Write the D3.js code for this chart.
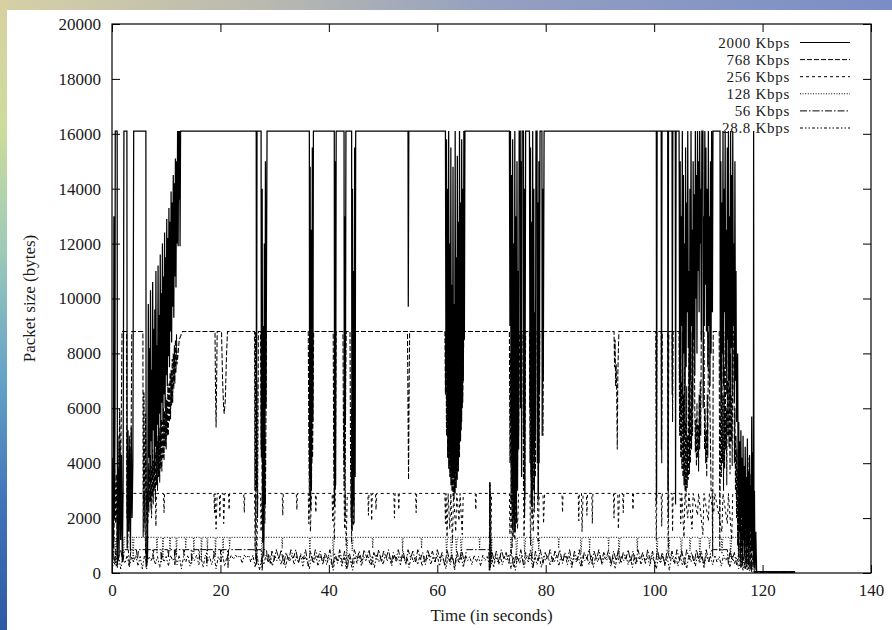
<!DOCTYPE html>
<html>
<head>
<meta charset="utf-8">
<script src="https://cdn.jsdelivr.net/npm/d3@7"></script>
<style>
  html, body { margin: 0; padding: 0; background: #fff; }
  svg { display: block; }
  text { font-family: "Liberation Serif", "Times New Roman", serif; fill: #1a1a1a; }
</style>
</head>
<body>
<svg id="chart" width="892" height="630"></svg>
<script>
// ---- data -------------------------------------------------------------
const xTickValues = [0, 20, 40, 60, 80, 100, 120, 140];
const yTickValues = [0, 2000, 4000, 6000, 8000, 10000, 12000, 14000, 16000, 18000, 20000];
const seriesLabels = ["2000 Kbps", "768 Kbps", "256 Kbps", "128 Kbps", "56 Kbps", "28.8 Kbps"];

// packet size (bytes) against time (s)
const s2000 = [
  [0.0,600],[0.15,4200],[0.25,900],[0.35,13000],[0.45,2000],[0.55,5500],[0.6,16100],[0.95,16100],[1.0,300],[1.15,3800],[1.3,600],[1.45,4800],[1.6,1200],[1.75,4300],[1.9,400],[2.05,3000],[2.2,16100],[2.75,16100],[2.8,900],[2.95,5200],[3.1,1500],[3.25,4600],[3.4,800],[3.55,5300],[3.7,2000],[3.85,4000],[4.0,16100],[6.25,16100],[6.3,200],[6.45,800],[6.55,500],
  [6.6,3000],[6.7,9800],[6.8,4200],[6.9,8200],[7.0,3300],[7.1,10300],[7.2,4800],[7.3,7400],[7.4,3500],[7.5,10600],[7.6,5200],[7.7,8900],[7.8,3700],[7.9,9600],[8.0,4600],[8.1,11000],[8.2,4100],[8.3,8300],[8.4,5400],[8.5,11200],[8.6,4300],[8.7,9400],[8.8,5800],[8.9,11600],[9.0,4800],[9.1,10200],[9.2,6200],[9.3,12000],[9.4,5500],[9.5,10800],[9.6,6500],[9.7,12400],[9.8,6000],[9.9,11500],[10.0,7200],[10.1,12900],[10.2,6800],[10.3,12200],[10.4,7900],[10.5,13300],[10.6,7500],[10.7,12800],[10.8,8800],[10.9,13900],[11.0,8400],[11.1,13500],[11.2,9700],[11.3,14500],[11.4,9300],[11.5,14200],[11.6,10800],[11.7,15100],[11.8,10400],[11.9,15000],[12.0,12000],[12.1,16100],[12.2,11900],[12.3,16100],[12.4,13600],[12.5,16100],[12.55,11900],[12.65,16100],
  [26.6,16100],[26.65,3100],[26.75,16100],[27.5,16100],[27.55,4200],[27.7,14000],[27.8,1100],[27.9,9000],[28.0,600],[28.1,12000],[28.2,2500],[28.3,15000],[28.4,6000],[28.6,16100],
  [36.4,16100],[36.45,3600],[36.55,14800],[36.65,2300],[36.75,12500],[36.85,4000],[36.95,15500],[37.05,5500],[37.15,16100],
  [41.0,16100],[41.05,2400],[41.15,15000],[41.25,3200],[41.35,16100],[42.8,16100],[42.85,4000],[42.95,13000],[43.05,5500],[43.15,16100],
  [44.2,16100],[44.25,1600],[44.35,14000],[44.45,2500],[44.55,11000],[44.65,1800],[44.75,15500],[44.85,3500],[44.95,16100],
  [54.6,16100],[54.65,9700],[54.75,16100],
  [61.5,16100],[61.6,7500],[61.7,15800],[61.8,6200],[61.9,14000],[62.0,5000],[62.1,16100],[62.2,4400],[62.3,12000],[62.4,3900],[62.5,15500],[62.6,3700],[62.7,10500],[62.8,3600],[62.9,14800],[63.0,3500],[63.1,9800],[63.2,3800],[63.3,16100],[63.4,3600],[63.5,11500],[63.6,3900],[63.7,15200],[63.8,4100],[63.9,12800],[64.0,4300],[64.1,16100],[64.2,4800],[64.3,13500],[64.4,5200],[64.5,15800],[64.6,6000],[64.7,14000],[64.8,7000],[64.9,16100],[65.0,8500],[65.1,16100],
  [73.3,16100],[73.4,9000],[73.5,16100],[73.6,5500],[73.7,14500],[73.8,3000],[73.9,15800],[74.0,2200],[74.1,12000],[74.2,1500],[74.3,16100],[74.4,2500],[74.5,13000],[74.6,1800],[74.7,15000],[74.8,3000],[74.9,11000],[75.0,4500],[75.1,16100],[75.3,16100],[75.35,6000],[75.45,15000],[75.55,3500],[75.65,16100],[75.9,16100],[75.95,5000],[76.05,14000],[76.15,2800],[76.3,16100],
  [77.0,16100],[77.1,6000],[77.2,15500],[77.3,3500],[77.4,12800],[77.5,2500],[77.6,16100],[77.7,4500],[77.8,14000],[77.9,3000],[78.0,9500],[78.1,5000],[78.2,16100],[78.4,16100],[78.45,4000],[78.55,13500],[78.65,2800],[78.75,15000],[78.85,6500],[78.95,16100],[79.3,16100],[79.35,5000],[79.45,14000],[79.55,7000],[79.7,16100],
  [100.4,16100],[100.45,2800],[100.55,16100],[101.3,16100],[101.35,4500],[101.45,16100],[102.5,16100],[102.55,3000],[102.65,16100],[103.3,16100],[103.35,6500],[103.45,16100],[103.9,16100],[103.95,2500],[104.05,16100],
  [104.6,16100],[104.7,7000],[104.8,15000],[104.9,5800],[105.0,13000],[105.1,9000],[105.2,16100],[105.3,6500],[105.4,14500],[105.5,8000],[105.6,12000],[105.7,5000],[105.8,15500],[105.9,7500],[106.0,13500],[106.1,9500],[106.2,16100],[106.3,8200],[106.4,11000],[106.5,4200],[106.6,14000],[106.7,7000],[106.8,16100],[106.9,9000],[107.0,12500],[107.1,6000],[107.2,15000],[107.3,8500],[107.4,13800],[107.5,7200],[107.6,16100],[107.7,10000],[107.8,14500],[107.9,8000],[108.0,16100],[108.1,11000],[108.2,15000],[108.3,9500],[108.4,16100],[108.5,12000],[108.6,14000],[108.7,8500],[108.8,16100],[109.0,16100],[109.05,6000],[109.15,13000],[109.25,9000],[109.35,16100],[109.45,10500],[109.55,15500],[109.65,8800],[109.8,14000],[109.9,7500],[110.0,16100],[110.1,9000],[110.2,13000],[110.3,6800],[110.4,15000],[110.5,8000],[110.6,16100],[110.75,9500],[110.85,16100],
  [112.15,16100],[112.2,7000],[112.3,15000],[112.4,6200],[112.5,13500],[112.6,8000],[112.7,16100],[112.8,6800],[112.9,14000],[113.0,9500],[113.1,16100],[113.2,7500],[113.3,12500],[113.4,6500],[113.5,15500],[113.6,8500],[113.7,16100],[113.8,7000],[113.9,13000],[114.0,6000],[114.1,16100],[114.2,8200],[114.3,14500],[114.4,6600],[114.5,16100],[114.6,9000],[114.7,12000],[114.8,6200],[114.9,15000],[115.0,7000],[115.1,11000],[115.2,5500],[115.4,8000],
  [115.5,3000],[115.6,5500],[115.7,1500],[115.8,4800],[115.9,500],[116.0,5200],[116.1,2000],[116.2,4200],[116.3,300],[116.4,5000],[116.5,1200],[116.6,3900],[116.7,600],[116.8,4600],[116.9,1800],[117.0,3500],[117.1,200],[117.2,4900],[117.3,1000],[117.4,3700],[117.5,400],[117.6,4300],[117.7,1500],[117.8,3200],[117.9,900],[118.0,5700],[118.1,800],[118.2,4400],[118.3,300],[118.35,16100],[118.42,200],[118.5,3000],[118.6,100],[118.75,1500],[118.9,50],[126.0,50]
];

const s768 = [
  [0.0,400],[0.2,2500],[0.35,700],[0.5,4000],[0.65,1800],[0.8,3600],[0.95,900],[1.1,5000],[1.25,2200],[1.4,6000],[1.55,3000],[1.7,5500],[1.85,8800],[2.7,8800],[2.75,2000],[2.9,4500],[3.05,1500],[3.2,5000],[3.35,2500],[3.5,4200],[3.65,8800],[5.7,8800],[5.75,1300],[5.9,6600],[6.05,1800],[6.2,5800],[6.35,2300],[6.5,3000],
  [6.6,2400],[6.7,4000],[6.8,2200],[6.9,3800],[7.0,2600],[7.1,4300],[7.2,2300],[7.3,3900],[7.4,2800],[7.5,4500],[7.6,2500],[7.7,4100],[7.8,3000],[7.9,4700],[8.0,2700],[8.1,4400],[8.2,3200],[8.3,5000],[8.4,3000],[8.5,4800],[8.6,3500],[8.7,5300],[8.8,3300],[8.9,5100],[9.0,3800],[9.1,5600],[9.2,3700],[9.3,5500],[9.4,4200],[9.5,6000],[9.6,4100],[9.7,5900],[9.8,4600],[9.9,6400],[10.0,4500],[10.1,6300],[10.2,5000],[10.3,6800],[10.4,5000],[10.5,6900],[10.6,5500],[10.7,7300],[10.8,5600],[10.9,7400],[11.0,6100],[11.1,7800],[11.2,6200],[11.3,8000],[11.4,6700],[11.5,8300],[11.6,6900],[11.7,8500],[11.8,7300],[11.9,8700],[12.0,7600],[12.2,8000],[12.4,8500],[12.6,8600],[13.0,8800],
  [19.0,8800],[19.1,6500],[19.2,5300],[19.3,7000],[19.4,8800],[20.2,8800],[20.4,7000],[20.6,6000],[20.7,5800],[20.9,6300],[21.1,7800],[21.3,8800],
  [26.3,8800],[26.35,3000],[26.45,8800],[26.55,1500],[26.7,7000],[26.85,2000],[27.0,8800],[27.4,8800],[27.5,4500],[27.6,8000],[27.7,1800],[27.85,6500],[28.0,1200],[28.15,5000],[28.3,2500],[28.5,8800],
  [36.2,8800],[36.3,5000],[36.4,2800],[36.5,6000],[36.6,3500],[36.7,8000],[36.8,3000],[36.9,7000],[37.0,4200],[37.2,8800],
  [40.8,8800],[40.9,4000],[41.0,2500],[41.1,6000],[41.2,3000],[41.35,8800],[42.6,8800],[42.7,5000],[42.8,3000],[42.9,6500],[43.0,2000],[43.1,7000],[43.2,8800],[43.9,8800],[44.0,4000],[44.1,2000],[44.2,6000],[44.3,1500],[44.4,5000],[44.5,2800],[44.6,7500],[44.7,3500],[44.85,8800],
  [54.5,8800],[54.6,6000],[54.7,3400],[54.8,6500],[54.9,8800],
  [61.4,8800],[61.5,6500],[61.6,8800],[61.7,5000],[61.8,8000],[61.9,4200],[62.0,7500],[62.1,3800],[62.2,8800],[62.3,3500],[62.4,6800],[62.5,3200],[62.6,8200],[62.7,3000],[62.8,6200],[62.9,2800],[63.0,7800],[63.1,2700],[63.2,6000],[63.3,2900],[63.4,8800],[63.5,3100],[63.6,6500],[63.7,3400],[63.8,8000],[63.9,3700],[64.0,7000],[64.1,4200],[64.2,8800],[64.3,4800],[64.4,7500],[64.5,5500],[64.6,8800],[64.7,6200],[64.9,8800],
  [73.3,8800],[73.4,4000],[73.5,8000],[73.6,2500],[73.7,7000],[73.8,1600],[73.9,6000],[74.0,1300],[74.1,8800],[74.2,2000],[74.3,5500],[74.4,1500],[74.5,7500],[74.6,2500],[74.7,8800],[74.8,3500],[74.9,6500],[75.0,5000],[75.2,8800],[75.8,8800],[75.9,3000],[76.0,7000],[76.1,2000],[76.3,8800],
  [77.0,8800],[77.1,4000],[77.2,7500],[77.3,2500],[77.4,6000],[77.5,2000],[77.6,8800],[77.7,3000],[77.8,6500],[77.9,2200],[78.0,8000],[78.1,3500],[78.2,8800],[78.5,8800],[78.6,2600],[78.7,7000],[78.8,4000],[78.9,8800],[79.4,8800],[79.5,5000],[79.6,8800],
  [92.6,8800],[92.7,7500],[92.8,8500],[92.9,6800],[93.0,7600],[93.1,6500],[93.2,4500],[93.3,7200],[93.4,8100],[93.5,8800],
  [100.3,8800],[100.4,2500],[100.5,8800],[101.3,8800],[101.4,4000],[101.5,8800],[102.5,8800],[102.6,2000],[102.7,8800],[103.3,8800],[103.4,5500],[103.5,8800],
  [104.6,8800],[104.7,5000],[104.8,8000],[104.9,4200],[105.0,7000],[105.1,3800],[105.2,8800],[105.3,3500],[105.4,6500],[105.5,3200],[105.6,7500],[105.7,3000],[105.8,5500],[105.9,2800],[106.0,6800],[106.1,3100],[106.2,5000],[106.3,3400],[106.4,8000],[106.5,3600],[106.6,6000],[106.7,4000],[106.8,8800],[106.9,4500],[107.0,7000],[107.1,5000],[107.2,8800],[107.4,8800],[107.5,6000],[107.6,4400],[107.7,5600],[107.8,3900],[107.9,6200],[108.0,4200],[108.1,5400],[108.2,3700],[108.3,6500],[108.4,4500],[108.5,7000],[108.6,5000],[108.7,8800],[109.2,8800],[109.3,4500],[109.4,6000],[109.5,4000],[109.6,5200],[109.7,3500],[109.8,6500],[109.9,4200],[110.0,8800],[110.3,6000],[110.5,3000],[110.7,3000],[110.8,600],[110.9,8800],[112.0,8800],[112.1,800],[112.2,4000],
  [112.3,7000],[112.4,3500],[112.5,8800],[112.6,4000],[112.7,6500],[112.8,3000],[112.9,7500],[113.0,3800],[113.1,8800],[113.2,4500],[113.3,6000],[113.4,3200],[113.5,7000],[113.6,5000],[113.7,8800],[113.8,4600],[113.9,6800],[114.0,3600],[114.1,8000],[114.2,4800],[114.3,6500],[114.4,3900],[114.5,8800],[114.7,8800],[114.8,4000],[114.9,6000],[115.0,3000],[115.1,5000],[115.2,2000],[115.3,4500],
  [115.4,1000],[115.5,3800],[115.6,600],[115.7,3000],[115.8,1500],[115.9,4400],[116.0,800],[116.1,3500],[116.2,200],[116.3,4000],[116.4,1300],[116.5,3000],[116.6,500],[116.7,3800],[116.8,1000],[116.9,2600],[117.0,400],[117.1,3300],[117.2,1400],[117.3,4200],[117.4,300],[117.5,2800],[117.6,900],[117.7,3600],[117.8,200],[117.9,2400],[118.0,100],[118.3,800],[118.5,50],[118.9,30],[126.0,30]
];

const s256 = [
  [0.0,300],[0.3,2900],[0.9,2900],[1.0,600],[1.2,2900],[2.8,2900],[2.9,900],[3.1,2900],[5.8,2900],[5.9,1500],[6.0,2900],[6.2,700],[6.4,2600],[6.6,1800],[6.8,2900],[7.2,2900],[7.3,2000],[7.4,2900],[8.0,2900],[8.1,1700],[8.2,2900],[9.5,2900],[9.6,2200],[9.7,2900],
  [18.8,2900],[18.9,2200],[19.0,2900],[19.2,1600],[19.4,2900],[19.8,2900],[19.9,2000],[20.0,2900],[20.5,2900],[20.6,1800],[20.8,2900],[21.5,2900],[21.6,2300],[21.7,2900],
  [24.3,2900],[24.4,2200],[24.5,2900],[26.3,2900],[26.4,800],[26.5,2900],[26.7,300],[26.9,2900],[27.4,2900],[27.5,1500],[27.7,2900],[28.1,2900],[28.2,1800],[28.3,2900],
  [31.4,2900],[31.5,2100],[31.6,2900],[34.0,2900],[34.1,2300],[34.2,2900],[36.2,2900],[36.3,1800],[36.4,2900],[36.6,1500],[36.8,2900],[37.5,2900],[37.6,2200],[37.7,2900],
  [40.6,2900],[40.7,1900],[40.8,2900],[41.0,1200],[41.2,2900],[42.8,2900],[42.9,1600],[43.0,2900],[43.2,1000],[43.4,2900],[44.1,2900],[44.2,1100],[44.3,2900],[44.5,1700],[44.7,2900],
  [47.2,2900],[47.3,2100],[47.4,2900],[47.8,2900],[47.9,1900],[48.0,2900],[48.6,2900],[48.7,2300],[48.8,2900],
  [52.0,2900],[52.1,2000],[52.2,2900],[52.8,2900],[52.9,2300],[53.0,2900],[56.0,2900],[56.1,2200],[56.2,2900],
  [61.4,2900],[61.5,1800],[61.6,2900],[61.8,1300],[62.0,2900],[62.3,1600],[62.5,2900],[62.8,1100],[63.0,2900],[63.4,1500],[63.6,2900],[64.0,1900],[64.2,2900],[64.6,1400],[64.8,2900],
  [67.0,2900],[67.1,2300],[67.2,2900],[69.8,2900],[69.9,700],[70.0,2900],
  [73.3,2900],[73.4,1400],[73.6,2900],[73.8,900],[74.0,2900],[74.3,1200],[74.5,2900],[74.8,1600],[75.0,2900],[75.9,2900],[76.0,1300],[76.2,2900],[77.1,2900],[77.2,1000],[77.4,2900],[77.7,1500],[77.9,2900],[78.5,2900],[78.6,1100],[78.8,2900],[79.5,2900],[79.6,1800],[79.8,2900],
  [83.0,2900],[83.1,2200],[83.2,2900],[86.0,2900],[86.1,1900],[86.2,2900],[86.6,2900],[86.7,1500],[86.9,2900],[87.5,2900],[87.6,2100],[87.7,2900],[88.5,2900],[88.6,1800],[88.7,2900],
  [92.5,2900],[92.6,2000],[92.7,2900],[93.3,2900],[93.4,1600],[93.6,2900],[94.2,2900],[94.3,2200],[94.4,2900],[96.0,2900],[96.1,2300],[96.2,2900],
  [100.3,2900],[100.4,1200],[100.5,2900],[101.3,2900],[101.4,1700],[101.5,2900],[102.5,2900],[102.6,900],[102.7,2900],[103.3,2900],[103.4,1500],[103.5,2900],
  [104.8,2900],[104.9,1800],[105.1,2900],[105.5,1300],[105.7,2900],[106.2,2000],[106.4,2900],[107.0,1600],[107.2,2900],[108.0,2100],[108.2,2900],[109.0,1400],[109.2,2900],[110.0,1900],[110.2,2900],[111.0,2200],[111.2,2900],[112.5,1500],[112.7,2900],[113.5,1800],[113.7,2900],[114.3,1200],[114.5,2900],[115.5,2900],
  [115.6,800],[115.8,2600],[116.0,400],[116.2,2200],[116.4,900],[116.6,2500],[116.8,300],[117.0,1800],[117.2,600],[117.4,2000],[117.6,200],[117.8,1200],[118.0,100],[118.5,40],[126.0,40]
];

const s128 = [
  [0.0,200],[0.15,1300],[0.6,1300],[0.7,300],[0.85,1300],[2.0,1300],[2.1,500],[2.25,1300],[3.8,1300],[3.9,400],[4.05,1300],[6.4,1300],[6.5,600],[6.6,1300],[8.2,1300],[8.3,700],[8.4,1300],[9.3,1300],[9.4,500],[9.5,1300],[10.6,1300],[10.7,800],[10.8,1300],[11.8,1300],[11.9,600],[12.0,1300],[13.5,1300],[13.6,900],[13.7,1300],[15.0,1300],[15.1,700],[15.2,1300],[16.4,1300],[16.5,500],[16.6,1300],[17.5,1300],[17.6,800],[17.7,1300],[19.0,1300],[19.1,600],[19.2,1300],[20.4,1300],[20.5,700],[20.6,1300],[21.6,1300],[21.7,900],[21.8,1300],
  [26.4,1300],[26.5,500],[26.7,1300],[27.6,1300],[27.7,200],[27.9,1300],[31.3,1300],[31.4,900],[31.5,1300],[36.4,1300],[36.5,700],[36.6,1300],[40.7,1300],[40.8,600],[41.0,1300],[43.2,1300],[43.3,500],[43.5,1300],[44.2,1300],[44.3,800],[44.5,1300],[48.0,1300],[48.1,900],[48.2,1300],[53.5,1300],[53.6,800],[53.7,1300],[57.0,1300],[57.1,900],[57.2,1300],
  [61.6,1300],[61.7,700],[61.9,1300],[62.5,1300],[62.6,500],[62.8,1300],[63.4,1300],[63.5,800],[63.7,1300],[64.3,1300],[64.4,600],[64.6,1300],[67.7,1300],[67.8,900],[67.9,1300],[69.9,1300],[70.0,300],[70.1,1300],
  [73.5,1300],[73.6,600],[73.8,1300],[74.5,1300],[74.6,400],[74.8,1300],[76.0,1300],[76.1,700],[76.3,1300],[77.4,1300],[77.5,500],[77.7,1300],[78.6,1300],[78.7,800],[78.9,1300],[82.3,1300],[82.4,900],[82.5,1300],[86.4,1300],[86.5,700],[86.7,1300],[88.0,1300],[88.1,800],[88.2,1300],[91.5,1300],[91.6,900],[91.7,1300],[93.4,1300],[93.5,600],[93.7,1300],[96.8,1300],[96.9,800],[97.0,1300],
  [100.4,1300],[100.5,500],[100.7,1300],[102.6,1300],[102.7,700],[102.9,1300],[104.9,1300],[105.0,600],[105.2,1300],[106.5,1300],[106.6,800],[106.8,1300],[108.3,1300],[108.4,500],[108.6,1300],[110.1,1300],[110.2,900],[110.4,1300],[112.4,1300],[112.5,700],[112.7,1300],[114.0,1300],[114.1,600],[114.3,1300],[115.4,1300],
  [115.6,400],[115.8,1100],[116.0,300],[116.3,900],[116.6,200],[117.0,700],[117.4,100],[118.0,50],[126.0,30]
];

const s56 = [
  [0.0,100],[0.2,850],[0.5,300],[0.7,850],[1.0,200],[1.3,700],[1.6,850],[2.0,400],[2.3,850],[3.0,850],[3.2,300],[3.5,850],[4.5,850],[4.7,500],[4.9,850],[6.2,850],[6.4,150],[6.6,850],[7.5,850],[7.6,500],[7.7,850],[9.0,850],[9.1,400],[9.2,850],[10.3,850],[10.4,550],[10.5,850],[11.5,850],[11.6,300],[11.7,850],[13.2,850],[13.3,600],[13.4,850],[14.6,850],[14.7,350],[14.8,850],[16.0,850],[16.1,500],[16.2,850],[17.4,850],[17.5,250],[17.6,850],[18.7,850],[18.8,600],[18.9,850],[20.0,850],[20.1,400],[20.2,850],[21.3,850],[21.4,200],[21.5,850],
  [26.5,850],[26.6,300],[26.8,850],[27.5,850],[27.7,100],[27.9,850],[28.5,850],[28.7,400],[28.9,700],[29.2,350],[29.5,800],[29.9,450],[30.3,850],[30.8,500],[31.2,850],[31.7,300],[32.1,750],[32.6,450],[33.0,850],[33.5,550],[33.9,850],[34.4,350],[34.8,700],[35.3,500],[35.7,850],[36.2,250],[36.6,800],[37.1,400],[37.5,850],[38.0,550],[38.4,800],[38.9,300],[39.3,750],[39.8,500],[40.2,850],[40.7,200],[41.1,700],[41.6,450],[42.0,850],[42.5,350],[42.9,800],[43.4,150],[43.8,700],[44.3,300],[44.7,850],[45.2,500],[45.6,800],[46.1,400],[46.5,850],[47.0,550],[47.4,850],[47.9,300],[48.3,750],[48.8,500],[49.2,850],[49.7,400],[50.1,800],[50.6,550],[51.0,850],[51.5,350],[51.9,750],[52.4,500],[52.8,850],[53.3,450],[53.7,800],[54.2,300],[54.6,850],[55.1,550],[55.5,800],[56.0,400],[56.4,850],[56.9,500],[57.3,750],[57.8,300],[58.2,850],[58.7,550],[59.1,800],[59.6,400],[60.0,850],[60.5,500],[60.9,750],[61.4,250],[61.8,850],[62.3,400],[62.7,700],[63.2,200],[63.6,800],[64.1,450],[64.5,850],[65.0,350],[65.4,850],
  [69.5,850],[69.6,100],[69.65,3300],[69.7,100],[69.75,3300],[69.8,200],[70.0,850],[70.5,450],[70.9,800],[71.4,300],[71.8,850],[72.3,500],[72.7,750],[73.2,350],[73.6,850],[74.1,200],[74.5,700],[75.0,450],[75.4,850],[75.9,300],[76.3,750],[76.8,500],[77.2,850],[77.7,250],[78.1,800],[78.6,450],[79.0,850],[79.5,350],[79.9,750],[80.4,500],[80.8,850],[81.3,400],[81.7,800],[82.2,550],[82.6,850],[83.1,350],[83.5,750],[84.0,500],[84.4,850],[84.9,300],[85.3,800],[85.8,450],[86.2,850],[86.7,250],[87.1,750],[87.6,500],[88.0,850],[88.5,350],[88.9,800],[89.4,500],[89.8,850],[90.3,400],[90.7,750],[91.2,550],[91.6,850],[92.1,300],[92.5,800],[93.0,450],[93.4,850],[93.9,350],[94.3,750],[94.8,500],[95.2,850],[95.7,400],[96.1,800],[96.6,300],[97.0,850],[97.5,500],[97.9,750],[98.4,350],[98.8,850],[99.3,450],[99.7,800],[100.2,250],[100.6,850],[101.1,400],[101.5,750],[102.0,300],[102.4,850],[102.9,500],[103.3,800],[103.8,350],[104.2,850],[104.7,450],[105.1,800],[105.6,300],[106.0,850],[106.5,500],[106.9,750],[107.4,350],[107.8,850],[108.3,450],[108.7,800],[109.2,250],[109.6,850],[110.1,400],[110.5,800],[110.9,850],
  [113.5,850],[113.7,300],[114.0,850],[114.4,450],[114.8,750],[115.2,300],[115.6,700],[116.0,200],[116.4,600],[116.8,150],[117.2,500],[117.6,100],[118.0,300],[118.4,50],[126.0,20]
];

const s28 = [
  [0.0,50],[0.4,600],[0.8,250],[1.2,650],[1.6,150],[2.0,550],[2.4,350],[2.8,650],[3.2,200],[3.6,600],[4.0,400],[4.4,650],[4.8,250],[5.2,600],[5.6,150],[6.0,650],[6.4,350],[6.8,600],[7.2,450],[7.6,650],[8.0,300],[8.4,600],[8.8,200],[9.2,650],[9.6,400],[10.0,600],[10.4,250],[10.8,650],[11.2,450],[11.6,600],[12.0,300],[12.4,650],[12.8,150],[13.2,600],[13.6,400],[14.0,650],[14.4,250],[14.8,600],[15.2,450],[15.6,650],[16.0,300],[16.4,600],[16.8,200],[17.2,650],[17.6,400],[18.0,600],[18.4,300],[18.8,650],[19.2,150],[19.6,600],[20.0,400],[20.4,650],[20.8,250],[21.2,600],[21.6,450],[22.0,650],[22.4,500],[22.8,650],[23.2,550],[23.6,650],[24.0,350],[24.4,650],[24.8,550],[25.2,650],[25.6,400],[26.0,650],[26.4,200],[26.8,600],[27.2,100],[27.6,550],[28.0,300],[28.4,650],[28.8,400],[29.2,600],[29.6,250],[30.0,650],[30.4,450],[30.8,600],[31.2,300],[31.6,650],[32.0,200],[32.4,600],[32.8,450],[33.2,650],[33.6,300],[34.0,600],[34.4,400],[34.8,650],[35.2,250],[35.6,600],[36.0,450],[36.4,150],[36.8,600],[37.2,350],[37.6,650],[38.0,250],[38.4,600],[38.8,450],[39.2,650],[39.6,300],[40.0,600],[40.4,400],[40.8,100],[41.2,600],[41.6,350],[42.0,650],[42.4,250],[42.8,600],[43.2,150],[43.6,650],[44.0,400],[44.4,100],[44.8,600],[45.2,350],[45.6,650],[46.0,250],[46.4,600],[46.8,450],[47.2,650],[47.6,300],[48.0,600],[48.4,200],[48.8,650],[49.2,400],[49.6,600],[50.0,300],[50.4,650],[50.8,450],[51.2,600],[51.6,250],[52.0,650],[52.4,400],[52.8,600],[53.2,300],[53.6,650],[54.0,450],[54.4,600],[54.8,200],[55.2,650],[55.6,400],[56.0,600],[56.4,300],[56.8,650],[57.2,250],[57.6,600],[58.0,450],[58.4,650],[58.8,300],[59.2,600],[59.6,400],[60.0,650],[60.4,250],[60.8,600],[61.2,450],[61.6,150],[62.0,650],[62.4,300],[62.8,600],[63.2,100],[63.6,650],[64.0,350],[64.4,600],[64.8,200],[65.2,650],[65.6,450],[66.0,600],[66.4,300],[66.8,650],[67.2,400],[67.6,600],[68.0,250],[68.4,650],[68.8,450],[69.2,600],[69.6,300],[70.0,650],[70.4,200],[70.8,600],[71.2,400],[71.6,650],[72.0,300],[72.4,600],[72.8,450],[73.2,650],[73.6,150],[74.0,600],[74.4,100],[74.8,550],[75.2,350],[75.6,650],[76.0,200],[76.4,600],[76.8,400],[77.2,650],[77.6,150],[78.0,600],[78.4,300],[78.8,650],[79.2,200],[79.6,600],[80.0,450],[80.4,650],[80.8,300],[81.2,600],[81.6,400],[82.0,650],[82.4,250],[82.8,600],[83.2,450],[83.6,650],[84.0,300],[84.4,600],[84.8,200],[85.2,650],[85.6,400],[86.0,600],[86.4,250],[86.8,650],[87.2,450],[87.6,600],[88.0,300],[88.4,650],[88.8,200],[89.2,600],[89.6,400],[90.0,650],[90.4,300],[90.8,600],[91.2,450],[91.6,650],[92.0,250],[92.4,600],[92.8,150],[93.2,650],[93.6,350],[94.0,600],[94.4,450],[94.8,650],[95.2,300],[95.6,600],[96.0,200],[96.4,650],[96.8,400],[97.2,600],[97.6,300],[98.0,650],[98.4,450],[98.8,600],[99.2,250],[99.6,650],[100.0,400],[100.4,150],[100.8,600],[101.2,350],[101.6,650],[102.0,250],[102.4,600],[102.8,100],[103.2,650],[103.6,400],[104.0,600],[104.4,250],[104.8,650],[105.2,300],[105.6,600],[106.0,150],[106.4,650],[106.8,400],[107.2,600],[107.6,250],[108.0,650],[108.4,350],[108.8,600],[109.2,200],[109.6,650],[110.0,450],[110.4,600],[110.8,300],[111.2,650],[111.6,400],[112.0,600],[112.4,250],[112.8,650],[113.2,450],[113.6,600],[114.0,200],[114.4,650],[114.8,350],[115.2,550],[115.6,150],[116.0,500],[116.4,100],[116.8,450],[117.2,80],[117.6,350],[118.0,50],[118.5,30],[126.0,20]
];

const seriesValues = [s2000, s768, s256, s128, s56, s28];

// ---- layout -----------------------------------------------------------
const W = 892, H = 630;
const plot = { left: 112, right: 871, top: 24, bottom: 573 };
const dashPatterns = [null, "5,2", "3,3", "1,1.6", "7,2,1.5,2", "3,2,1.5,2,1.5,2"];
const strokeWidths = [1.25, 1.05, 1, 1, 1, 1];
const FONT = "17px";

const svg = d3.select("#chart");
const defs = svg.append("defs");

// slide backdrop: gradient bands along the top and left edges
const gTop = defs.append("linearGradient").attr("id", "bandTop").attr("x1", 0).attr("x2", 1).attr("y1", 0).attr("y2", 0);
[["0%", "#d6d0a6"], ["30%", "#b9b9b0"], ["55%", "#94a0c0"], ["100%", "#7b8dc6"]]
  .forEach(([o, c]) => gTop.append("stop").attr("offset", o).attr("stop-color", c));
const gLeft = defs.append("linearGradient").attr("id", "bandLeft").attr("x1", 0).attr("x2", 0).attr("y1", 0).attr("y2", 1);
[["0%", "#d8d0a2"], ["20%", "#cddc9c"], ["40%", "#9ccab8"], ["60%", "#64a2c8"], ["80%", "#3f74b8"], ["100%", "#2e5aa2"]]
  .forEach(([o, c]) => gLeft.append("stop").attr("offset", o).attr("stop-color", c));

svg.append("rect").attr("width", W).attr("height", H).attr("fill", "#ffffff");
svg.append("rect").attr("x", 0).attr("y", 0).attr("width", W).attr("height", 10).attr("fill", "url(#bandTop)");
svg.append("rect").attr("x", 0).attr("y", 0).attr("width", 7).attr("height", H).attr("fill", "url(#bandLeft)");

defs.append("clipPath").attr("id", "plotClip").append("rect")
  .attr("x", plot.left).attr("y", plot.top)
  .attr("width", plot.right - plot.left).attr("height", plot.bottom - plot.top);

const x = d3.scaleLinear().domain([0, 140]).range([plot.left, plot.right]);
const y = d3.scaleLinear().domain([0, 20000]).range([plot.bottom, plot.top]);

// ---- series -----------------------------------------------------------
const line = d3.line().x(d => x(d[0])).y(d => y(d[1]));
const traces = svg.append("g").attr("clip-path", "url(#plotClip)");
seriesValues.slice().reverse().forEach((vals, ri) => {
  const i = seriesValues.length - 1 - ri;
  traces.append("path")
    .attr("d", line(vals))
    .attr("fill", "none")
    .attr("stroke", "#000")
    .attr("stroke-width", strokeWidths[i])
    .attr("stroke-dasharray", dashPatterns[i]);
});

// ---- axes (gnuplot style: inward ticks mirrored on all four sides) -------
const tickFont = g => g.selectAll("text").style("font-size", FONT)
  .style("font-family", "'Liberation Serif','Times New Roman',serif").attr("fill", "#1a1a1a");
const clean = g => { g.select(".domain").remove(); g.selectAll("line").attr("stroke", "#000"); };

svg.append("g").attr("transform", `translate(${plot.left},0)`)
  .call(d3.axisLeft(y).tickValues(yTickValues).tickSize(-8).tickPadding(11).tickFormat(d3.format("d")))
  .call(clean).call(tickFont);
svg.append("g").attr("transform", `translate(${plot.right},0)`)
  .call(d3.axisRight(y).tickValues(yTickValues).tickSize(-8).tickFormat(""))
  .call(clean);
svg.append("g").attr("transform", `translate(0,${plot.bottom})`)
  .call(d3.axisBottom(x).tickValues(xTickValues).tickSize(-8).tickPadding(11).tickFormat(d3.format("d")))
  .call(clean).call(tickFont);
svg.append("g").attr("transform", `translate(0,${plot.top})`)
  .call(d3.axisTop(x).tickValues(xTickValues).tickSize(-8).tickFormat(""))
  .call(clean);

svg.append("rect")
  .attr("x", plot.left).attr("y", plot.top)
  .attr("width", plot.right - plot.left).attr("height", plot.bottom - plot.top)
  .attr("fill", "none").attr("stroke", "#000").attr("stroke-width", 1.2);

// axis titles
svg.append("text")
  .attr("x", (plot.left + plot.right) / 2).attr("y", 621)
  .attr("text-anchor", "middle").style("font-size", FONT)
  .text("Time (in seconds)");
svg.append("text")
  .attr("transform", `translate(35,${(plot.top + plot.bottom) / 2}) rotate(-90)`)
  .attr("text-anchor", "middle").style("font-size", FONT)
  .text("Packet size (bytes)");

// ---- legend (compact rows, slightly tracked type) ------------------------
const legend = svg.append("g");
seriesLabels.forEach((label, i) => {
  const cy = 42.5 + i * 17.1;
  legend.append("text")
    .attr("x", 790).attr("y", cy + 5)
    .attr("text-anchor", "end")
    .style("font-size", "15px")
    .style("letter-spacing", "0.7px")
    .text(label);
  legend.append("line")
    .attr("x1", 800).attr("x2", 850).attr("y1", cy).attr("y2", cy)
    .attr("stroke", "#000").attr("stroke-width", 1)
    .attr("stroke-dasharray", dashPatterns[i]);
});
</script>
</body>
</html>
